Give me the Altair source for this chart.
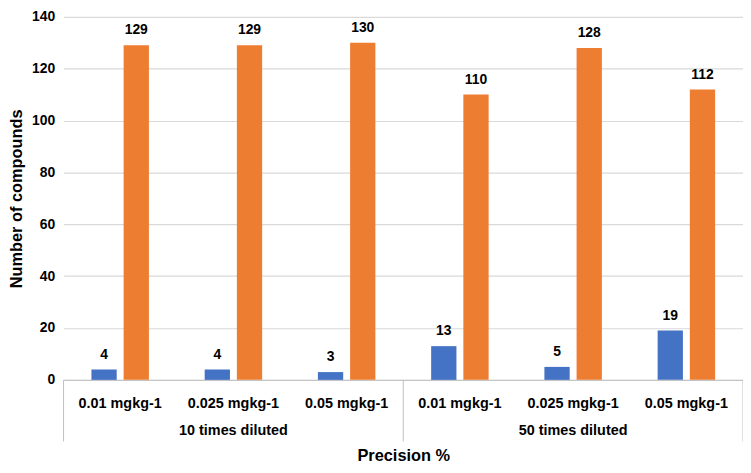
import altair as alt
import pandas as pd

keys = ["0", "1", "2", "3", "4", "5"]
concentrations = ["0.01 mgkg-1", "0.025 mgkg-1", "0.05 mgkg-1",
                  "0.01 mgkg-1", "0.025 mgkg-1", "0.05 mgkg-1"]
groups = ["10 times diluted", "50 times diluted"]
group_centers = ["1", "4"]
series = ["A", "B"]
blue_values = [4, 4, 3, 13, 5, 19]
orange_values = [129, 129, 130, 110, 128, 112]
colors = ["#4472C4", "#ED7D31"]

rows = []
for k, b, o in zip(keys, blue_values, orange_values):
    rows.append({"key": k, "series": series[0], "value": b})
    rows.append({"key": k, "series": series[1], "value": o})
df = pd.DataFrame(rows)

label_expr = "[" + ",".join("'%s'" % c for c in concentrations) + "][toNumber(datum.value)]"

W, H = 685, 366
FONT = "Liberation Sans"

x_enc = alt.X("key:N", sort=keys,
              scale=alt.Scale(domain=keys, paddingInner=0, paddingOuter=0),
              axis=alt.Axis(title="Precision %", labelExpr=label_expr, labelAngle=0,
                            ticks=False, tickSize=0, labelPadding=17, titlePadding=38,
                            domainColor="#bfbfbf", labelFontSize=14.5, labelFontWeight="bold",
                            labelColor="#000000", titleFontSize=16.5, titleFontWeight="bold",
                            titleColor="#000000", labelFont=FONT, titleFont=FONT, grid=False))
xoff = alt.XOffset("series:N", sort=series,
                   scale=alt.Scale(domain=series, paddingInner=0.215, paddingOuter=0.866))
y_enc = alt.Y("value:Q", scale=alt.Scale(domain=[0, 140], nice=False),
              axis=alt.Axis(title="Number of compounds", values=list(range(0, 141, 20)),
                            domain=False, ticks=False, labelPadding=9, titlePadding=7,
                            gridColor="#d9d9d9", gridWidth=1.2, labelFontSize=14,
                            labelFontWeight="bold", labelColor="#000000", titleFontSize=16.5,
                            titleFontWeight="bold", titleColor="#000000", labelFont=FONT,
                            titleFont=FONT))

bars = alt.Chart(df).mark_bar().encode(
    x=x_enc, xOffset=xoff, y=y_enc,
    color=alt.Color("series:N", scale=alt.Scale(domain=series, range=colors), legend=None),
)
labels = alt.Chart(df).mark_text(font=FONT, fontSize=14, fontWeight="bold", dy=-11,
                                 baseline="alphabetic", color="#000000").encode(
    x=alt.X("key:N", sort=keys), xOffset=alt.XOffset("series:N", sort=series),
    y="value:Q", text="value:Q")

gdf = pd.DataFrame({"key": group_centers, "group": groups})
group_text = alt.Chart(gdf).mark_text(font=FONT, fontSize=14.5, fontWeight="bold",
                                      baseline="middle", color="#000000").encode(
    x=alt.X("key:N", sort=keys), y=alt.value(418), text="group:N")

sep_left = alt.Chart(pd.DataFrame({"key": ["0", "3"]})).mark_rule(color="#bfbfbf").encode(
    x=alt.X("key:N", sort=keys, bandPosition=0), y=alt.value(H), y2=alt.value(428))
sep_right = alt.Chart(pd.DataFrame({"key": ["5"]})).mark_rule(color="#bfbfbf").encode(
    x=alt.X("key:N", sort=keys, bandPosition=1), y=alt.value(H), y2=alt.value(428))

chart = alt.layer(bars, labels, group_text, sep_left, sep_right).properties(
    width=W, height=H,
    autosize=alt.AutoSizeParams(type="none"),
    padding={"left": 56, "top": 7, "right": 0, "bottom": 92},
).configure_view(stroke=None).configure_axis(labelFont=FONT, titleFont=FONT)

chart.save("out.html", embed_options={"renderer": "svg", "actions": False})
